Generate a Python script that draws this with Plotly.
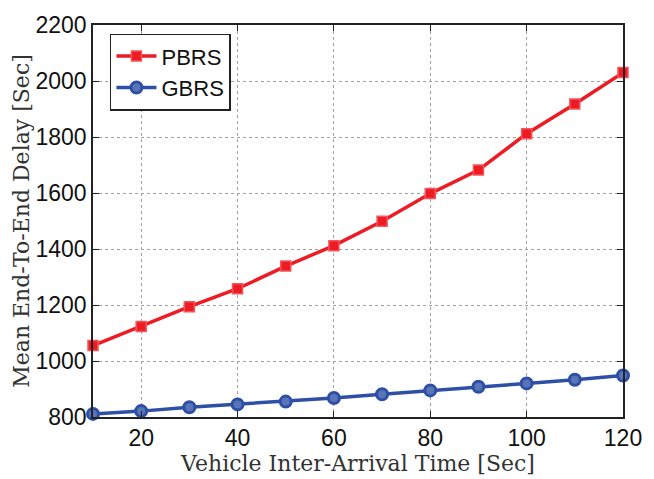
import plotly.graph_objects as go

# Vehicle inter-arrival time (s)
arrival_time = [10, 20, 30, 40, 50, 60, 70, 80, 90, 100, 110, 120]

# Mean end-to-end delay (s) for each routing scheme
pbrs_delay = [1055, 1123, 1194, 1258, 1339, 1412, 1499, 1598, 1682, 1812, 1918, 2030]
gbrs_delay = [811, 821, 835, 845, 855, 868, 881, 895, 908, 920, 933, 948]

x_ticks = [20, 40, 60, 80, 100, 120]
y_ticks = [800, 1000, 1200, 1400, 1600, 1800, 2000, 2200]

RED = "#ED1C24"
BLUE = "#2E4FA6"
SANS = "Liberation Sans, Arial, sans-serif"
SERIF = "DejaVu Serif, serif"

fig = go.Figure()
fig.add_trace(go.Scatter(
    x=arrival_time, y=pbrs_delay, name="PBRS", mode="lines+markers",
    line=dict(color=RED, width=3.5),
    marker=dict(symbol="square", size=10, color=RED, line=dict(color="#F4555B", width=1.5)),
    cliponaxis=False,
))
fig.add_trace(go.Scatter(
    x=arrival_time, y=gbrs_delay, name="GBRS", mode="lines+markers",
    line=dict(color=BLUE, width=3.5),
    marker=dict(symbol="circle", size=11, color="#5A74B8", line=dict(color=BLUE, width=3)),
    cliponaxis=False,
))

axis_common = dict(
    showline=True, linecolor="#222222", linewidth=1.5, mirror="ticks",
    ticks="inside", ticklen=6, tickcolor="#222222",
    showgrid=True, gridcolor="#a0a0a0", griddash="dot", gridwidth=1,
    zeroline=False,
    tickfont=dict(family=SANS, size=23, color="#111111"),
)

fig.update_xaxes(
    range=[10, 120], tickvals=x_ticks, **axis_common,
    title=dict(text="Vehicle Inter-Arrival Time [Sec]", standoff=0,
               font=dict(family=SERIF, size=22, color="#333333")),
)
fig.update_yaxes(
    range=[800, 2200], tickvals=y_ticks, **axis_common,
    title=dict(text="Mean End-To-End Delay [Sec]", standoff=0,
               font=dict(family=SERIF, size=22, color="#333333")),
)

fig.update_layout(
    width=654, height=479,
    margin=dict(l=93, r=26, t=17, b=60),
    plot_bgcolor="white", paper_bgcolor="white",
    showlegend=True,
    legend=dict(
        x=0.032, y=0.978, xanchor="left", yanchor="top",
        bgcolor="white", bordercolor="#222222", borderwidth=1.5,
        font=dict(family=SANS, size=22, color="#111111"),
        itemwidth=40, tracegroupgap=0,
    ),
)

fig.write_html("out.html")
